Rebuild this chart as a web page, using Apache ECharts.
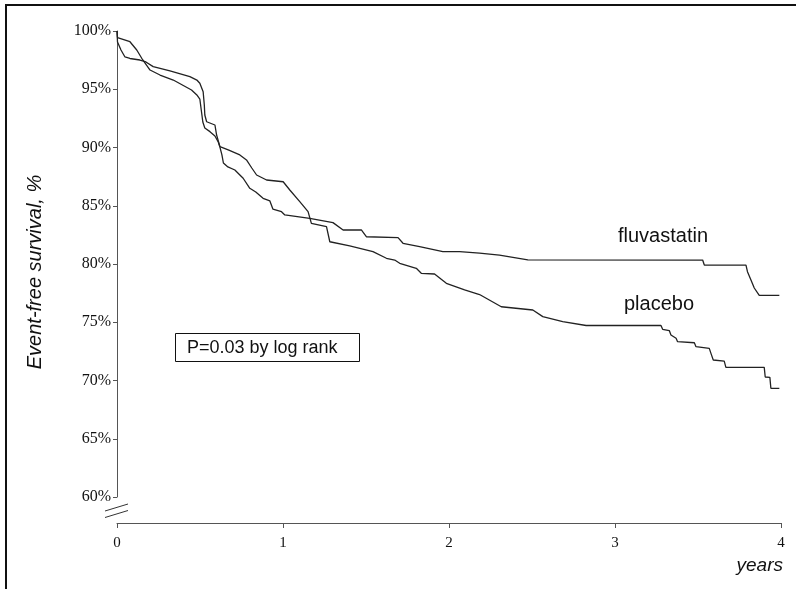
<!DOCTYPE html>
<html>
<head>
<meta charset="utf-8">
<script src="https://cdn.jsdelivr.net/npm/echarts@6/dist/echarts.min.js"></script>
<style>
html,body{margin:0;padding:0;background:#fff;}
#chart{width:796px;height:589px;}
</style>
</head>
<body>
<div id="chart"></div>
<script>
// Kaplan-Meier curves (time in years, event-free survival in %)
const fluvaTime = [0, 0.003, 0.078, 0.119, 0.149, 0.199, 0.259, 0.339, 0.449, 0.481, 0.499, 0.510, 0.517, 0.529, 0.560, 0.590, 0.610, 0.620, 0.632, 0.641, 0.668, 0.710, 0.760, 0.800, 0.836, 0.880, 0.921, 0.939, 0.991, 1.011, 1.161, 1.301, 1.362, 1.472, 1.502, 1.693, 1.723, 1.823, 1.963, 2.064, 2.184, 2.304, 2.475, 3.528, 3.538, 3.789, 3.798, 3.819, 3.839, 3.869, 3.99];
const fluvaSurv = [100, 99.44, 99.08, 98.37, 97.66, 96.65, 96.22, 95.79, 94.94, 94.51, 94.16, 92.96, 92.19, 91.67, 91.36, 90.99, 90.47, 90.04, 89.36, 88.67, 88.33, 88.07, 87.36, 86.50, 86.18, 85.64, 85.41, 84.72, 84.49, 84.21, 83.92, 83.55, 82.92, 82.92, 82.34, 82.27, 81.78, 81.49, 81.06, 81.06, 80.94, 80.77, 80.36, 80.34, 79.91, 79.91, 79.34, 78.63, 77.94, 77.30, 77.30];

const placeboTime = [0, 0.003, 0.024, 0.048, 0.078, 0.138, 0.174, 0.218, 0.319, 0.439, 0.481, 0.499, 0.519, 0.526, 0.529, 0.540, 0.590, 0.600, 0.620, 0.670, 0.740, 0.780, 0.812, 0.841, 0.901, 1.001, 1.041, 1.101, 1.151, 1.171, 1.262, 1.282, 1.402, 1.542, 1.623, 1.673, 1.703, 1.803, 1.833, 1.913, 1.984, 2.094, 2.184, 2.315, 2.505, 2.565, 2.685, 2.826, 3.277, 3.287, 3.327, 3.337, 3.368, 3.377, 3.478, 3.488, 3.568, 3.578, 3.592, 3.658, 3.668, 3.899, 3.905, 3.933, 3.939, 3.99];
const placeboSurv = [100, 99.06, 98.37, 97.77, 97.64, 97.51, 97.34, 96.94, 96.57, 96.08, 95.79, 95.51, 94.79, 93.65, 92.79, 92.21, 91.93, 91.07, 90.07, 89.79, 89.36, 88.93, 88.24, 87.64, 87.21, 87.06, 86.35, 85.35, 84.49, 83.49, 83.20, 81.91, 81.55, 81.06, 80.49, 80.34, 80.06, 79.63, 79.20, 79.14, 78.34, 77.77, 77.38, 76.33, 76.05, 75.48, 75.05, 74.72, 74.72, 74.39, 74.29, 73.91, 73.62, 73.33, 73.24, 72.90, 72.76, 72.33, 71.76, 71.67, 71.13, 71.13, 70.30, 70.27, 69.33, 69.33];

const seriesNames = ['fluvastatin', 'placebo'];
const yTickValues = [60, 65, 70, 75, 80, 85, 90, 95, 100];
const xTickValues = [0, 1, 2, 3, 4];
const yAxisTitle = 'Event-free survival, %';
const xAxisTitle = 'years';
const annotation = 'P=0.03 by log rank';

const zip = (a, b) => a.map((v, i) => [v, b[i]]);

const chart = echarts.init(document.getElementById('chart'), null, {renderer: 'canvas'});

const axisColor = '#555';
const option = {
  animation: false,
  backgroundColor: '#fff',
  grid: {left: 117, top: 31, right: 15, bottom: 92, containLabel: false},
  xAxis: {
    type: 'value', min: xTickValues[0], max: xTickValues[xTickValues.length - 1], interval: 1,
    offset: 26,
    axisLine: {show: true, lineStyle: {color: axisColor, width: 1}},
    axisTick: {show: true, length: 5, lineStyle: {color: axisColor}},
    axisLabel: {margin: 13, color: '#111', fontFamily: 'Liberation Serif', fontSize: 15},
    splitLine: {show: false}
  },
  yAxis: {
    type: 'value', min: yTickValues[0], max: yTickValues[yTickValues.length - 1], interval: 5,
    axisLine: {show: true, lineStyle: {color: axisColor, width: 1}},
    axisTick: {show: true, length: 4, lineStyle: {color: axisColor}},
    axisLabel: {margin: 6, color: '#111', fontFamily: 'Liberation Serif', fontSize: 16, formatter: '{value}%'},
    splitLine: {show: false}
  },
  series: [
    {name: seriesNames[0], type: 'line', data: zip(fluvaTime, fluvaSurv), showSymbol: false, symbol: 'none',
     lineStyle: {color: '#222', width: 1.3}, silent: true},
    {name: seriesNames[1], type: 'line', data: zip(placeboTime, placeboSurv), showSymbol: false, symbol: 'none',
     lineStyle: {color: '#222', width: 1.3}, silent: true}
  ]
};
chart.setOption(option);

// decorations placed relative to the axes
const p0 = chart.convertToPixel({gridIndex: 0}, [0, 60]);
const brk = (dy) => ({type: 'line', shape: {x1: p0[0] - 12, y1: p0[1] + dy + 7, x2: p0[0] + 11, y2: p0[1] + dy}, style: {stroke: '#333', lineWidth: 1}});

chart.setOption({
  graphic: [
    {type: 'polyline', shape: {points: [[6, 589], [6, 5], [796, 5]]}, style: {stroke: '#111', lineWidth: 2, fill: null}},
    brk(7), brk(13.5),
    {type: 'text', x: 35, y: 272, rotation: Math.PI / 2,
     style: {text: yAxisTitle, font: 'italic 20px "Liberation Sans"', fill: '#111', textAlign: 'center', textVerticalAlign: 'middle'}},
    {type: 'text', x: 783, y: 566,
     style: {text: xAxisTitle, font: 'italic 19px "Liberation Sans"', fill: '#111', textAlign: 'right', textVerticalAlign: 'middle'}},
    {type: 'text', x: 663, y: 236,
     style: {text: seriesNames[0], font: '20px "Liberation Sans"', fill: '#111', textAlign: 'center', textVerticalAlign: 'middle'}},
    {type: 'text', x: 659, y: 304,
     style: {text: seriesNames[1], font: '20px "Liberation Sans"', fill: '#111', textAlign: 'center', textVerticalAlign: 'middle'}},
    {type: 'rect', shape: {x: 175.5, y: 333.5, width: 184, height: 28}, style: {fill: '#fff', stroke: '#111', lineWidth: 1}},
    {type: 'text', x: 187, y: 348,
     style: {text: annotation, font: '18px "Liberation Sans"', fill: '#111', textAlign: 'left', textVerticalAlign: 'middle'}}
  ]
});
</script>
</body>
</html>
